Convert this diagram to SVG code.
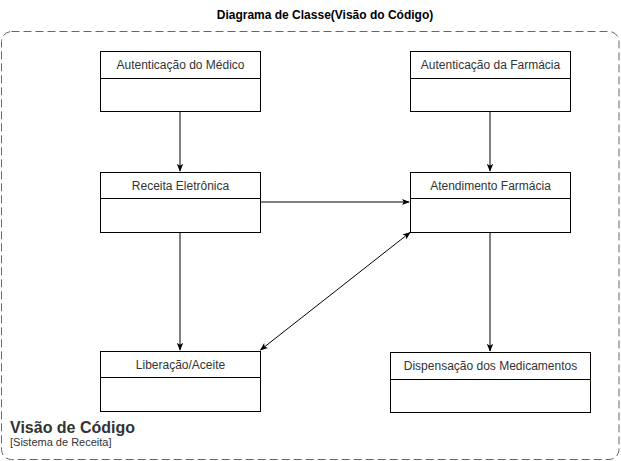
<svg xmlns="http://www.w3.org/2000/svg" width="621" height="461" viewBox="0 0 621 461">
<defs>
<style>
.box{fill:#fff;stroke:#000;stroke-width:1}
.t{font-family:"Liberation Sans",Arial,sans-serif;font-size:12px;fill:#333;text-anchor:middle}
.c{fill:none;stroke:#000;stroke-width:1}
</style>
<marker id="a" viewBox="0 0 10 10" refX="9" refY="5" markerWidth="8" markerHeight="8" orient="auto-start-reverse" markerUnits="userSpaceOnUse">
<path d="M0,1 L10,5 L0,9 L2.5,5 Z" fill="#000"/>
</marker>
</defs>
<rect width="621" height="461" fill="#fff"/>
<text x="325" y="19" class="t" style="font-weight:bold;fill:#000">Diagrama de Classe(Visão do Código)</text>
<g id="boundary">
<rect x="1.5" y="31.5" width="617.5" height="428" rx="10" fill="none" stroke="#666" stroke-dasharray="8 4"/>
<text x="10" y="433" style="font-family:'Liberation Sans',Arial,sans-serif;font-size:16px;font-weight:bold;fill:#333">Visão de Código</text>
<text x="10" y="446" style="font-family:'Liberation Sans',Arial,sans-serif;font-size:11px;fill:#333">[Sistema de Receita]</text>
</g>
<g id="connectors">
<line x1="180" y1="111" x2="180" y2="171" class="c" marker-end="url(#a)"/>
<line x1="490" y1="111" x2="490" y2="171" class="c" marker-end="url(#a)"/>
<line x1="260" y1="202" x2="409" y2="202" class="c" marker-end="url(#a)"/>
<line x1="180" y1="232" x2="180" y2="350" class="c" marker-end="url(#a)"/>
<line x1="490" y1="232" x2="490" y2="351" class="c" marker-end="url(#a)"/>
<line x1="410" y1="232.5" x2="260.5" y2="350" class="c" marker-start="url(#a)" marker-end="url(#a)"/>
</g>
<g id="autenticacao-medico">
<rect x="100.5" y="51.5" width="160" height="60" class="box"/>
<line x1="100.5" y1="78.5" x2="260.5" y2="78.5" class="c"/>
<text x="180.5" y="69" class="t">Autenticação do Médico</text>
</g>
<g id="autenticacao-farmacia">
<rect x="410.5" y="51.5" width="160" height="60" class="box"/>
<line x1="410.5" y1="78.5" x2="570.5" y2="78.5" class="c"/>
<text x="490.5" y="69" class="t">Autenticação da Farmácia</text>
</g>
<g id="receita-eletronica">
<rect x="100.5" y="172.5" width="160" height="60" class="box"/>
<line x1="100.5" y1="198.5" x2="260.5" y2="198.5" class="c"/>
<text x="180.5" y="190" class="t">Receita Eletrônica</text>
</g>
<g id="atendimento-farmacia">
<rect x="410.5" y="172.5" width="160" height="60" class="box"/>
<line x1="410.5" y1="198.5" x2="570.5" y2="198.5" class="c"/>
<text x="490.5" y="190" class="t">Atendimento Farmácia</text>
</g>
<g id="liberacao-aceite">
<rect x="100.5" y="351.5" width="160" height="60" class="box"/>
<line x1="100.5" y1="377.5" x2="260.5" y2="377.5" class="c"/>
<text x="180.5" y="369" class="t">Liberação/Aceite</text>
</g>
<g id="dispensacao">
<rect x="390.5" y="352.5" width="200" height="60" class="box"/>
<line x1="390.5" y1="379.5" x2="590.5" y2="379.5" class="c"/>
<text x="490.5" y="370" class="t">Dispensação dos Medicamentos</text>
</g>
</svg>
